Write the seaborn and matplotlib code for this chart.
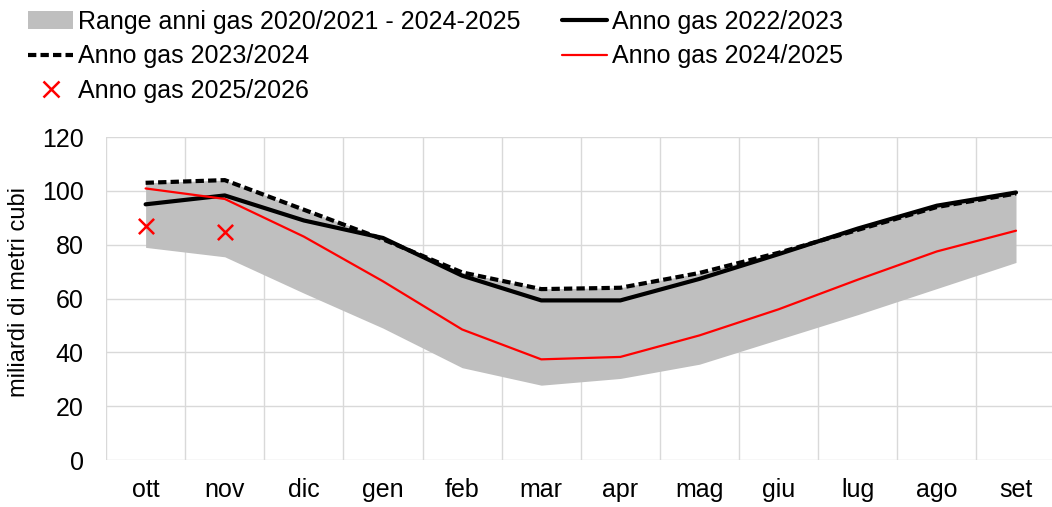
"""
Stoccaggi gas: andamento mensile per anno gas
"""

import numpy as np
import pandas as pd
import matplotlib
matplotlib.use('Agg')
import matplotlib.pyplot as plt
import seaborn as sns
from matplotlib.patches import Patch
from matplotlib.lines import Line2D

# Data (miliardi di metri cubi)
months = ['ott', 'nov', 'dic', 'gen', 'feb', 'mar',
          'apr', 'mag', 'giu', 'lug', 'ago', 'set']
range_min = [79, 75.5, 62, 49, 34.3, 27.8, 30.3, 35.6, 44.8, 54, 63.7, 73.4]
range_max = [103, 104, 93, 82.5, 69.7, 63.6, 64, 69.5, 77, 86, 94.5, 99.4]
gas_2223 = [95, 98.3, 89, 82.5, 68.5, 59.3, 59.3, 67.3, 76.5, 86, 94.5, 99.4]
gas_2324 = [103, 104, 93, 82, 69.7, 63.5, 64, 69.5, 77, 85.5, 94, 99]
gas_2425 = [100.9, 97, 83, 66.4, 48.5, 37.4, 38.3, 46.3, 56, 67, 77.5, 85.2]
gas_2526 = [87.1, 84.7]

lab_range = 'Range anni gas 2020/2021 - 2024-2025'
lab_2223 = 'Anno gas 2022/2023'
lab_2324 = 'Anno gas 2023/2024'
lab_2425 = 'Anno gas 2024/2025'
lab_2526 = 'Anno gas 2025/2026'

x = np.arange(len(months))
df = pd.DataFrame({
    'x': x,
    'g2223': gas_2223,
    'g2324': gas_2324,
    'g2425': gas_2425,
})
df_new = pd.DataFrame({'x': x[:len(gas_2526)], 'val': gas_2526})

sns.set_style('white')
plt.rcParams['font.family'] = ['Liberation Sans', 'DejaVu Sans']
plt.rcParams['text.color'] = 'black'
plt.rcParams['xtick.color'] = 'black'
plt.rcParams['ytick.color'] = 'black'
plt.rcParams['axes.labelcolor'] = 'black'

fig = plt.figure(figsize=(10.52, 5.07), dpi=100)
ax = fig.add_axes([0.1008, 0.0927, 0.9026, 0.637])

grid_col = '#d9d9d9'
band_col = '#bfbfbf'
red = '#ff0000'

# Range band
ax.fill_between(x, range_min, range_max, color=band_col, lw=0, zorder=2)

# Lines
sns.lineplot(data=df, x='x', y='g2324', ax=ax, color='black',
             lw=3, zorder=3)
ax.lines[-1].set_dashes((2, 1))
sns.lineplot(data=df, x='x', y='g2223', ax=ax, color='black',
             lw=3, zorder=4)
sns.lineplot(data=df, x='x', y='g2425', ax=ax, color=red,
             lw=1.6, zorder=5)
sns.scatterplot(data=df_new, x='x', y='val', ax=ax, marker='x',
                color=red, s=120, linewidth=1.8, zorder=6)

# Axes styling
ax.set_xlim(-0.5, len(months) - 0.5)
ax.set_ylim(0, 120)
ax.set_yticks(range(0, 121, 20))
ax.set_xticks(x)
ax.set_xticklabels(months)
ax.set_xticks(np.arange(-0.5, len(months), 1), minor=True)
ax.grid(False)
ax.yaxis.grid(True, color=grid_col, lw=1, zorder=0)
ax.xaxis.grid(True, which='minor', color=grid_col, lw=1, zorder=0)
ax.set_axisbelow(True)
for s in ax.spines.values():
    s.set_visible(False)

ax.tick_params(axis='y', length=0, pad=16, labelsize=18)
ax.tick_params(axis='x', which='major', length=0, pad=13, labelsize=18)
ax.tick_params(axis='x', which='minor', length=6, color=grid_col, width=1)
ax.set_xlabel('')
ax.set_ylabel('miliardi di metri cubi', fontsize=17)
ax.yaxis.set_label_coords(-0.08, 0.52)

# Legend
handles = [
    Patch(facecolor=band_col, edgecolor='none'),
    Line2D([], [], color='black', lw=3, dashes=(2, 1)),
    Line2D([], [], color=red, marker='x', ls='none', markersize=11,
           markeredgewidth=1.8),
    Line2D([], [], color='black', lw=3),
    Line2D([], [], color=red, lw=1.6),
]
labels = [lab_range, lab_2324, lab_2526, lab_2223, lab_2425]
fig.legend(handles, labels, ncol=2, frameon=False, fontsize=18,
           loc='upper left', bbox_to_anchor=(0.015, 1.005),
           borderpad=0, handlelength=1.8, handletextpad=0.2,
           columnspacing=1.65, labelspacing=0.42)

plt.savefig('out.png', dpi=100)
